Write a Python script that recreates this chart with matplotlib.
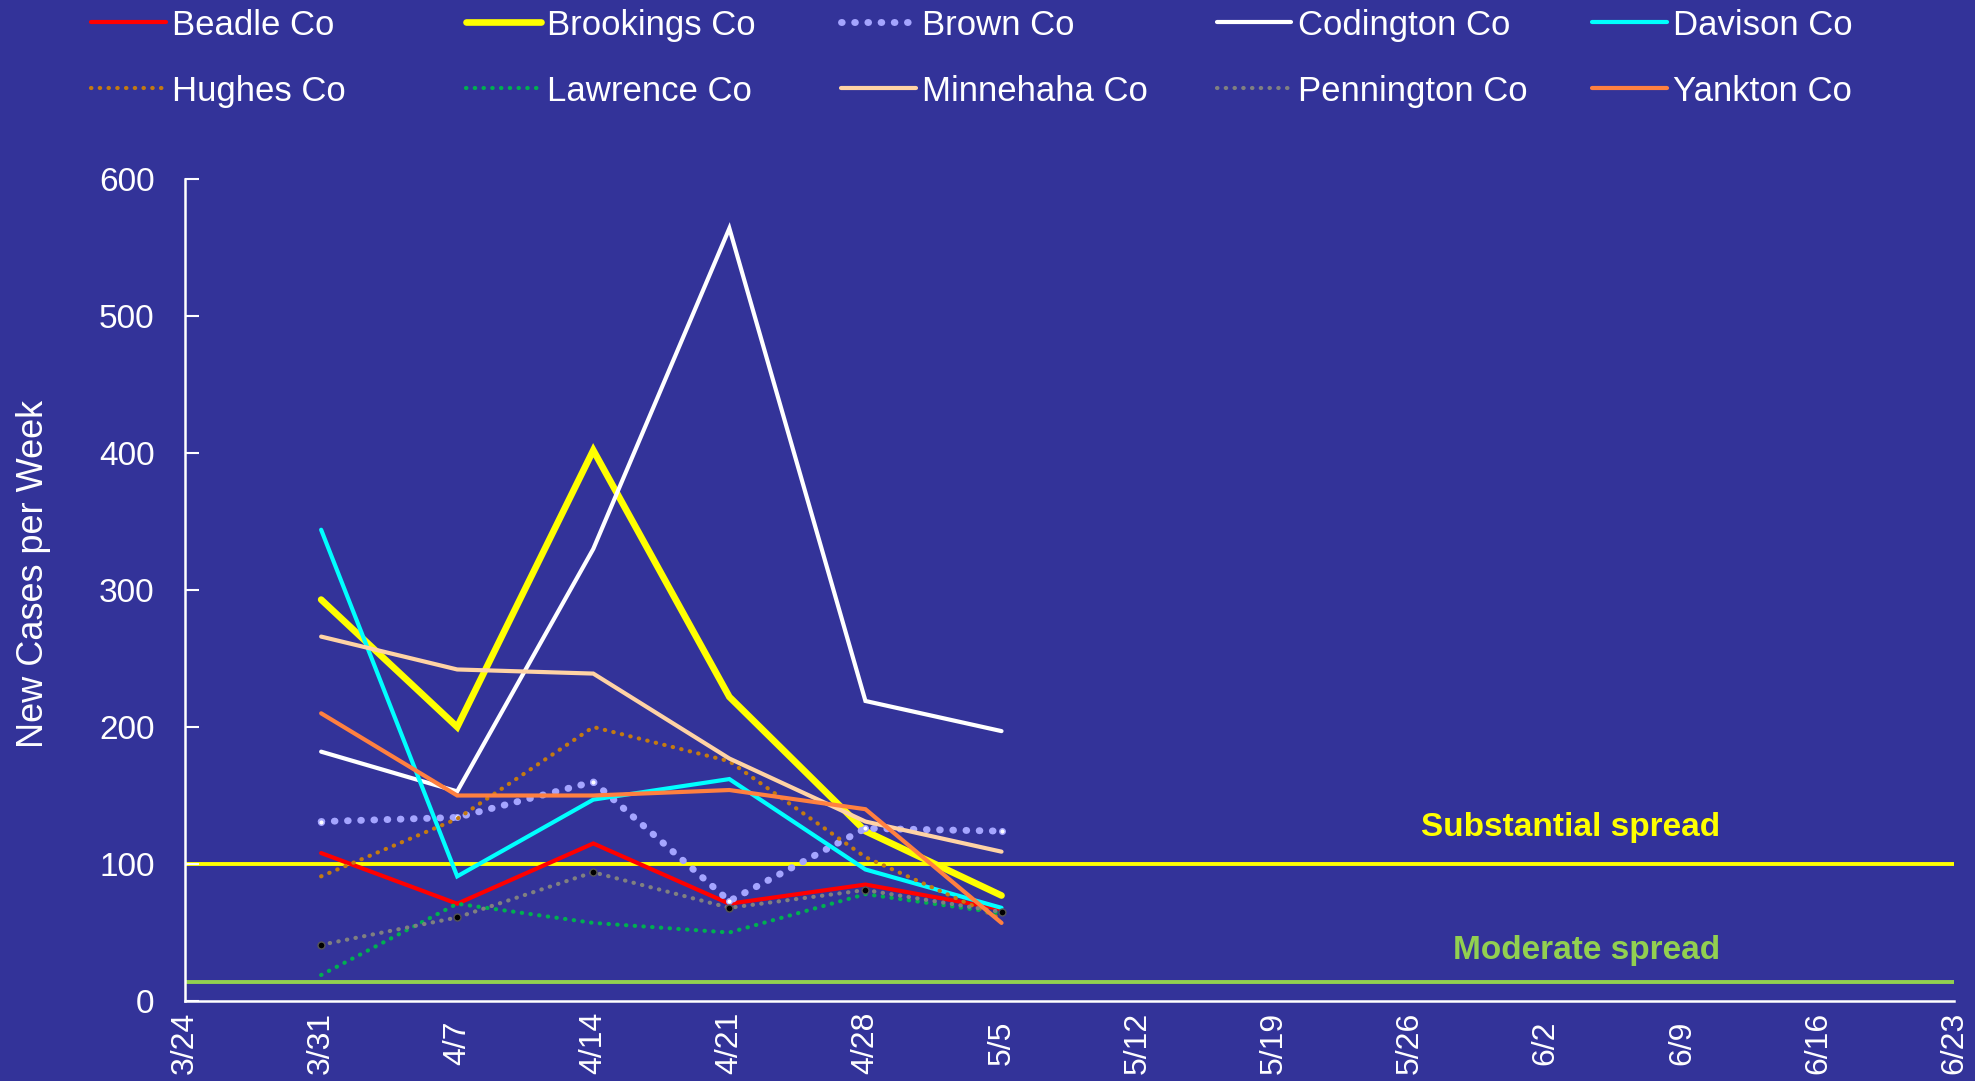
import matplotlib.pyplot as plt
from matplotlib.lines import Line2D

plt.rcParams['font.family'] = ['Liberation Sans', 'DejaVu Sans']

# week labels on the x axis
weeks = ['3/24', '3/31', '4/7', '4/14', '4/21', '4/28', '5/5',
         '5/12', '5/19', '5/26', '6/2', '6/9', '6/16', '6/23']
data_weeks = [1, 2, 3, 4, 5, 6]  # 3/31 .. 5/5

# new cases per week
beadle = [108, 71, 115, 71, 85, 67]
brookings = [293, 200, 402, 222, 124, 77]
brown = [131, 134, 160, 73, 126, 124]
codington = [182, 153, 330, 564, 219, 197]
davison = [344, 91, 147, 162, 96, 68]
hughes = [91, 133, 200, 175, 105, 60]
lawrence = [19, 71, 57, 50, 78, 64]
minnehaha = [266, 242, 239, 177, 131, 109]
pennington = [41, 61, 94, 68, 81, 65]
yankton = [210, 150, 150, 154, 140, 57]

substantial = 100
moderate = 14

bg = '#333399'
dot = (0, (0.1, 2.0))
bigdot = (0, (0.1, 1.8))

series = [
    ('Beadle Co', beadle, dict(color='#FF0000', lw=3.0)),
    ('Brookings Co', brookings, dict(color='#FFFF00', lw=4.8)),
    ('Brown Co', brown, dict(color='#A5A5FF', lw=5.0, ls=bigdot, marker='o', ms=4,
                             mfc='white', mec='#A5A5FF')),
    ('Codington Co', codington, dict(color='white', lw=3.0)),
    ('Davison Co', davison, dict(color='#00FFFF', lw=3.0)),
    ('Hughes Co', hughes, dict(color='#C47A10', lw=3.0, ls=dot)),
    ('Lawrence Co', lawrence, dict(color='#00B050', lw=3.0, ls=dot)),
    ('Minnehaha Co', minnehaha, dict(color='#FFD3A5', lw=3.0)),
    ('Pennington Co', pennington, dict(color='#808080', lw=3.0, ls=dot, marker='o', ms=5,
                                       mfc='black', mec='#555555')),
    ('Yankton Co', yankton, dict(color='#FF8040', lw=3.0)),
]

fig = plt.figure(figsize=(19.75, 10.81), dpi=100, facecolor=bg)
ax = fig.add_axes([0.0937, 0.074, 0.8957, 0.7604])
ax.set_facecolor(bg)

ax.axhline(substantial, color='#FFFF00', lw=2.8, zorder=1)
ax.axhline(moderate, color='#92D050', lw=2.8, zorder=1)

handles = []
for name, vals, kw in series:
    ax.plot(data_weeks, vals, label=name, dash_capstyle='round',
            solid_capstyle='round', solid_joinstyle='miter', zorder=3, **kw)
    handles.append(Line2D([], [], color=kw['color'], lw=kw['lw'],
                          ls=kw.get('ls', '-'), dash_capstyle='round',
                          solid_capstyle='round'))

ax.text(11.28, 127, 'Substantial spread', color='#FFFF00', fontsize=24,
        fontweight='bold', ha='right', va='center')
ax.text(11.28, 37, 'Moderate spread', color='#92D050', fontsize=24,
        fontweight='bold', ha='right', va='center')

ax.set_xlim(0, 13)
ax.set_ylim(0, 600)
ax.set_xticks(range(len(weeks)))
ax.set_xticklabels(weeks, rotation=90, fontsize=23, color='white', va='center')
ax.set_yticks(range(0, 601, 100))
ax.tick_params(axis='y', direction='in', length=10, width=1.5, colors='white',
               labelsize=24, pad=22)
ax.tick_params(axis='x', length=0, colors='white', pad=30)

for s in ['top', 'right']:
    ax.spines[s].set_visible(False)
for s in ['left', 'bottom']:
    ax.spines[s].set_color('white')
    ax.spines[s].set_linewidth(1.8)

ax.set_ylabel('New Cases per Week', color='white', fontsize=26)
ax.yaxis.set_label_coords(-0.076, 0.52)

# legend: five columns with equal spacing, two rows each
for i in range(5):
    pair = [handles[i], handles[i + 5]]
    names = [series[i][0], series[i + 5][0]]
    fig.legend(pair, names, loc='upper left', bbox_to_anchor=(0.046 + 0.19 * i, 0.992),
               frameon=False, fontsize=25, labelcolor='white', borderpad=0,
               borderaxespad=0, handlelength=2.15, handletextpad=0.18,
               labelspacing=0.95)

fig.savefig('out.png', dpi=100, facecolor=bg)
